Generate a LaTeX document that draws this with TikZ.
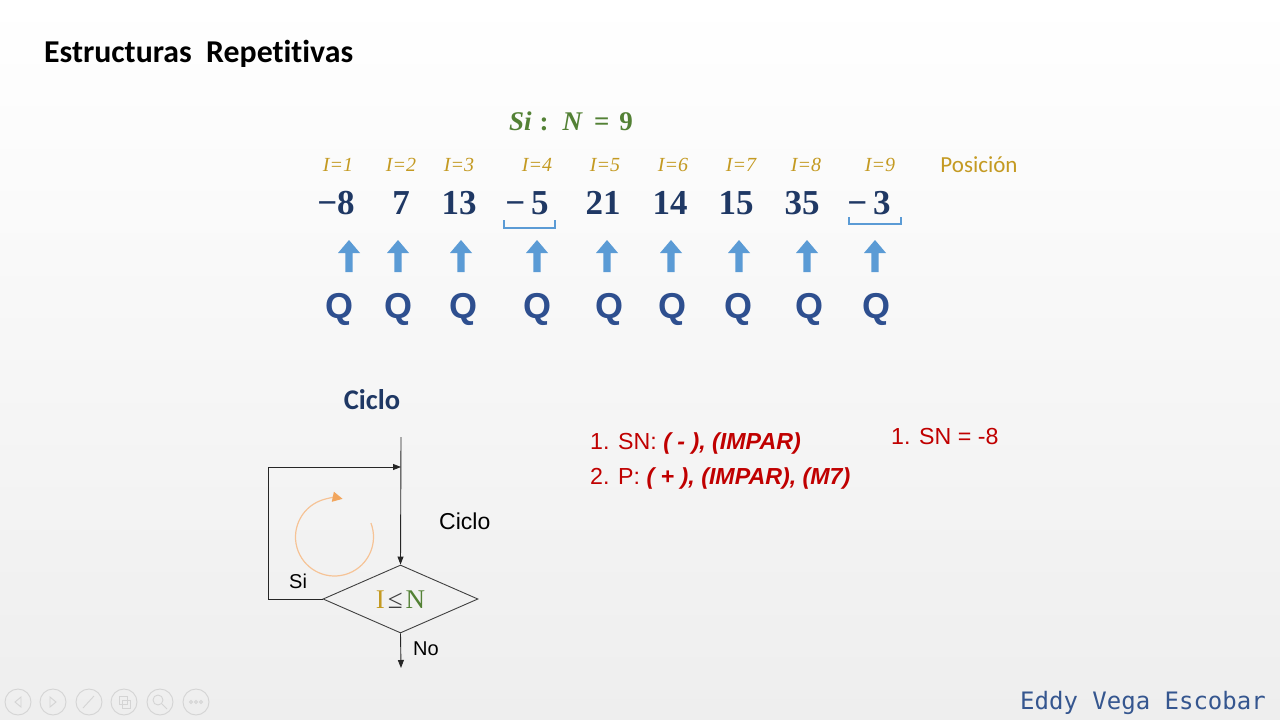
\documentclass[tikz,border=0pt]{standalone}
\usepackage{fontspec}
\usetikzlibrary{arrows.meta,shapes.geometric,calc}
\newfontfamily\carlito[Ligatures=NoCommon]{Carlito}
\newfontfamily\arialf{Liberation Sans}
\newfontfamily\timesf{Liberation Serif}
\newfontfamily\monof{DejaVu Sans Mono}
\definecolor{bgbot}{HTML}{EEEEEE}
\definecolor{navy}{HTML}{1F3864}
\definecolor{qblue}{HTML}{2E4F8F}
\definecolor{arrblue}{HTML}{5B9BD5}
\definecolor{gold}{HTML}{C49A22}
\definecolor{grn}{HTML}{538135}
\definecolor{dred}{HTML}{C00000}
\definecolor{eddy}{HTML}{35568F}
\definecolor{orng}{HTML}{F6C396}
\definecolor{orngd}{HTML}{F2A65E}
\definecolor{icon}{HTML}{D4D4D4}
\tikzset{
  numtxt/.style={anchor=base, text=navy, font=\timesf\bfseries\fontsize{35}{35}\selectfont, inner sep=0},
  idx/.style={anchor=base, text=gold, font=\timesf\itshape\fontsize{20}{20}\selectfont, inner sep=0},
  qtxt/.style={anchor=base, text=qblue, font=\arialf\bfseries\fontsize{36}{36}\selectfont, inner sep=0},
  flow/.style={line width=0.9pt, draw=black!85},
  flowarr/.style={flow, -{Triangle[length=8pt,width=6pt]}},
  redtxt/.style={anchor=base west, text=dred, font=\arialf\fontsize{23.2}{23.2}\selectfont, inner sep=0},
  bracketln/.style={draw=arrblue, line width=1.6pt},
  iconc/.style={draw=icon, line width=0.9pt},
}
\begin{document}
\begin{tikzpicture}[x=1pt,y=-1pt]
\useasboundingbox (0,0) rectangle (1280,720);
\shade[top color=white, bottom color=bgbot] (0,0) rectangle (1280,720);

% title
\node[anchor=base west, inner sep=0, font=\carlito\bfseries\fontsize{31.8}{31.8}\selectfont] (title) at (44,62) {Estructuras\ \ Repetitivas};

% Si : N = 9
\node[anchor=base west, inner sep=0, text=grn, font=\timesf\bfseries\fontsize{27}{27}\selectfont] (cond) at (509,130) {\textit{Si}\hspace{8pt}:\hspace{14pt}\textit{N}\hspace{11pt}=\hspace{10pt}9};

% index labels
\foreach \k/\x in {1/338,2/401,3/459,4/537,5/605,6/673,7/741,8/806,9/880}
  \node[idx] (l\k) at (\x,171) {I=\k};
\node[anchor=base, inner sep=0, text=gold, font=\carlito\fontsize{23}{23}\selectfont] (pos) at (979,172) {Posición};

% numbers
\foreach \k/\x/\t in {1/336/−8,2/401/7,3/459/13,4/527/−\hspace{6pt}5,5/603/21,6/670/14,7/736/15,8/802/35,9/869/−\hspace{6pt}3}
  \node[numtxt] (n\k) at (\x,214) {\t};

% brackets
\draw[bracketln] (504,220) -- (504,228) -- (555,228) -- (555,220);
\draw[bracketln] (849,217) -- (849,224) -- (901,224) -- (901,217);

% up arrows
\foreach \k/\x in {1/349,2/398,3/461,4/537,5/607,6/671,7/739,8/807,9/875}{
  \fill[arrblue] (\x,240) -- (\x+11,253) -- (\x+3.6,253) -- (\x+3.6,272) -- (\x-3.6,272) -- (\x-3.6,253) -- (\x-11,253) -- cycle;
  \coordinate (a\k) at (\x,256);
}

% Q row
\foreach \k/\x in {1/339,2/398,3/463,4/537,5/609,6/672,7/738,8/809,9/876}
  \node[qtxt] (q\k) at (\x,318) {Q};

% Ciclo header
\node[anchor=base, inner sep=0, text=navy, font=\carlito\bfseries\fontsize{28.5}{28.5}\selectfont] (cichead) at (372,409) {Ciclo};

% flowchart
\node[draw=black!75, line width=0.9pt, diamond, aspect=2.28, minimum width=155pt, minimum height=68pt, inner sep=0] (dia) at (400.5,599) {};
\node[inner sep=0, font=\timesf\fontsize{27}{27}\selectfont] (cnd) at (400.5,600) {\textcolor{gold}{I}\hspace{3pt}\textcolor{black!75}{≤}\hspace{3pt}\textcolor{grn}{N}};
\coordinate (top) at (401,437);
\coordinate (join) at (401,467);
\coordinate (loopc) at (268,599);
\coordinate (endp) at (401,668);
\draw[flowarr] (top) -- (dia.north);
\draw[flowarr] (dia.west) -- (loopc) |- (join);
\draw[flowarr] (dia.south) -- (endp);

\node[anchor=base west, inner sep=0, font=\arialf\fontsize{23}{23}\selectfont] (ciclab) at (439,529) {Ciclo};
\node[anchor=base west, inner sep=0, font=\arialf\fontsize{20}{20}\selectfont] (silab) at (289,588) {Si};
\node[anchor=base west, inner sep=0, font=\arialf\fontsize{20}{20}\selectfont] (nolab) at (413,655) {No};

% orange cycle arrow
\coordinate (cyc) at (334.5,537);
\draw[orng, line width=1.2pt, -{Triangle[length=10pt,width=10pt,color=orngd]}] ($(cyc)+(-21:39)$) arc[start angle=-21, end angle=282, radius=39];

% red notes
\node[redtxt] (r1) at (590,449) {1. SN: \textbf{\textit{( - ), (IMPAR)}}};
\node[redtxt] (r2) at (590,484) {2. P: \textbf{\textit{( + ), (IMPAR), (M7)}}};
\node[redtxt] (r3) at (891,444) {1. SN = -8};

% author
\node[anchor=base east, inner sep=0, text=eddy, font=\monof\fontsize{24}{24}\selectfont] (author) at (1266,709) {Eddy Vega Escobar};

% presentation toolbar icons
\foreach \k/\x in {1/18,2/53,3/89,4/124,5/160,6/196}
  \draw[iconc] (\x,702) circle[radius=13];
\draw[iconc] (21,697) -- (15,702) -- (21,707) -- cycle;
\draw[iconc] (50,697) -- (56,702) -- (50,707) -- cycle;
\draw[iconc] (83,708) -- (94,696);
\draw[iconc] (119,696) rectangle (127,704);
\draw[iconc] (122,700) rectangle (130,708);
\draw[iconc] (158,700) circle[radius=5];
\draw[iconc] (162,704) -- (167,709);
\foreach \d in {-5,0,5} \draw[iconc] (196+\d,702) circle[radius=1.5];
\end{tikzpicture}
\end{document}
